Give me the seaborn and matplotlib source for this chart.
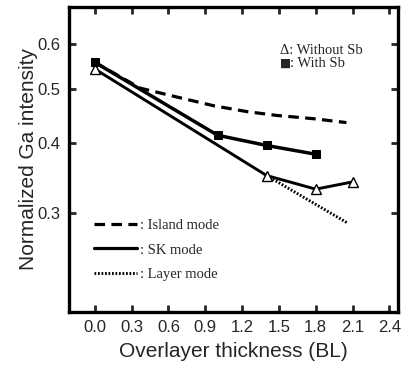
import matplotlib
matplotlib.use("Agg")
import matplotlib.pyplot as plt
from matplotlib.lines import Line2D
import seaborn as sns

# data
with_sb_x = [0.0, 1.0, 1.4, 1.8]
with_sb_y = [0.557, 0.413, 0.396, 0.382]

without_sb_x = [0.0, 1.4, 1.8, 2.1]
without_sb_y = [0.542, 0.350, 0.331, 0.341]

island_x = [0.0, 0.37, 0.67, 0.97, 1.24, 1.48, 1.78, 2.05]
island_y = [0.557, 0.501, 0.483, 0.466, 0.455, 0.448, 0.442, 0.435]

layer_x = [1.4, 2.06]
layer_y = [0.350, 0.288]

x_ticks = [0.0, 0.3, 0.6, 0.9, 1.2, 1.5, 1.8, 2.1, 2.4]
x_tick_labels = ["0.0", "0.3", "0.6", "0.9", "1.2", "1.5", "1.8", "2.1", "2.4"]
y_ticks = [0.3, 0.4, 0.5, 0.6]
y_tick_labels = ["0.3", "0.4", "0.5", "0.6"]

sns.set_style("ticks")
plt.rcParams['font.family'] = ['Liberation Sans', 'DejaVu Sans']
serif = ['Liberation Serif', 'DejaVu Serif']

fig, ax = plt.subplots(figsize=(4.04, 3.70), dpi=100)
fig.subplots_adjust(left=0.171, right=0.985, bottom=0.157, top=0.982)

sns.lineplot(x=island_x, y=island_y, ax=ax, color='black', lw=2.3,
             linestyle=(0, (3.3, 2.0)))
sns.lineplot(x=layer_x, y=layer_y, ax=ax, color='black', lw=2.1,
             linestyle=(0, (0.6, 0.6)))
sns.lineplot(x=without_sb_x, y=without_sb_y, ax=ax, color='black', lw=2.1,
             marker='^', markersize=7.5, markerfacecolor='white',
             markeredgecolor='black', markeredgewidth=1.0)
sns.lineplot(x=with_sb_x, y=with_sb_y, ax=ax, color='black', lw=2.5,
             marker='s', markersize=5.5, markerfacecolor='black',
             markeredgecolor='black')

ax.set_yscale('log')
ax.set_xlim(-0.21, 2.47)
ax.set_ylim(0.2, 0.7)
ax.set_xticks(x_ticks, labels=x_tick_labels)
ax.set_yticks(y_ticks, labels=y_tick_labels)
ax.minorticks_off()

ax.tick_params(direction='in', top=True, right=True, length=5, width=2,
               labelsize=12, pad=6)
for s in ax.spines.values():
    s.set_linewidth(2.4)
    s.set_color('black')

ax.set_xlabel("Overlayer thickness (BL)", fontsize=15, labelpad=5)
ax.set_ylabel("Normalized Ga intensity", fontsize=15, labelpad=0)

# model legend, lower left
handles = [
    Line2D([], [], color='black', lw=2.3, linestyle=(0, (3.3, 2.0))),
    Line2D([], [], color='black', lw=2.3),
    Line2D([], [], color='black', lw=2.1, linestyle=(0, (0.6, 0.6))),
]
labels = [": Island mode", ": SK mode", ": Layer mode"]
ax.legend(handles, labels, loc='center left', bbox_to_anchor=(0.075, 0.203),
          frameon=False, borderpad=0, borderaxespad=0, handlelength=3.0,
          handletextpad=0.15, labelspacing=0.75, prop={'family': serif, 'size': 10.5})

# data legend, top right
ax.text(0.641, 0.846, "\u0394: Without Sb", transform=ax.transAxes,
        family=serif, fontsize=10.5, va='baseline', ha='left')
ax.text(0.641, 0.803, "\u25a0", transform=ax.transAxes,
        family='DejaVu Sans', fontsize=8.5, va='baseline', ha='left')
ax.text(0.672, 0.803, ": With Sb", transform=ax.transAxes,
        family=serif, fontsize=10.5, va='baseline', ha='left')

fig.savefig("out.png", dpi=100)
